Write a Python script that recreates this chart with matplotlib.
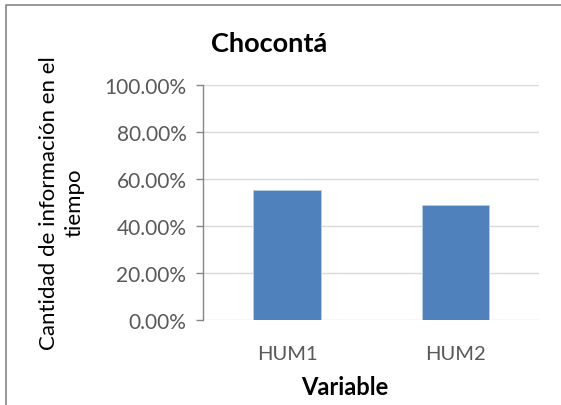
import numpy as np
import matplotlib.pyplot as plt
from matplotlib.lines import Line2D
from matplotlib.ticker import FuncFormatter

plt.rcParams['font.family'] = ['Lato', 'DejaVu Sans']

variables = ["HUM1", "HUM2"]
cantidad = [0.554, 0.491]
yticks = [0.0, 0.2, 0.4, 0.6, 0.8, 1.0]

fig = plt.figure(figsize=(5.61, 4.06), dpi=100)
ax = fig.add_axes([0.362, 0.2094, 0.599, 0.5788])

x = np.arange(len(variables))
ax.bar(x, cantidad, width=0.4, color='#4F81BD', edgecolor='#B9CDE5', linewidth=0.6, zorder=3)

ax.set_xlim(-0.5, 1.5)
ax.set_ylim(0, 1.0)
ax.set_yticks(yticks)
ax.yaxis.set_major_formatter(FuncFormatter(lambda v, p: f"{v*100:.2f}%"))
ax.set_xticks(x)
ax.set_xticklabels(variables)

ax.grid(axis='y', color='#D9D9D9', linewidth=1.0, zorder=0)
for s in ['top', 'right', 'bottom']:
    ax.spines[s].set_visible(False)
ax.spines['left'].set_color('#868686')
ax.spines['left'].set_linewidth(1.0)
ax.tick_params(axis='y', colors='#868686', length=5, width=1.0, labelsize=15, labelcolor='#595959', pad=7)
ax.tick_params(axis='x', length=0, labelsize=14.5, labelcolor='#595959', pad=18)

fig.text(62/561, 0.5, "Cantidad de información en el\ntiempo", fontsize=16, rotation=90,
         ha='center', va='center', linespacing=1.35)
fig.text(345/561, 1 - 388/406, "Variable", fontsize=17, fontweight='bold', ha='center', va='center')

fig.text(0.48, 1 - 44/406, "Chocontá", fontsize=19.5, fontweight='bold', ha='center', va='center')

# chart area border (only left and top edges are inside the picture)
bx, by = 5.5/561, 1 - 5.5/406
fig.lines.append(Line2D([bx, bx, 1.0], [0.0, by, by], transform=fig.transFigure,
                        color='#868686', linewidth=1.2))

plt.savefig("out.png")
